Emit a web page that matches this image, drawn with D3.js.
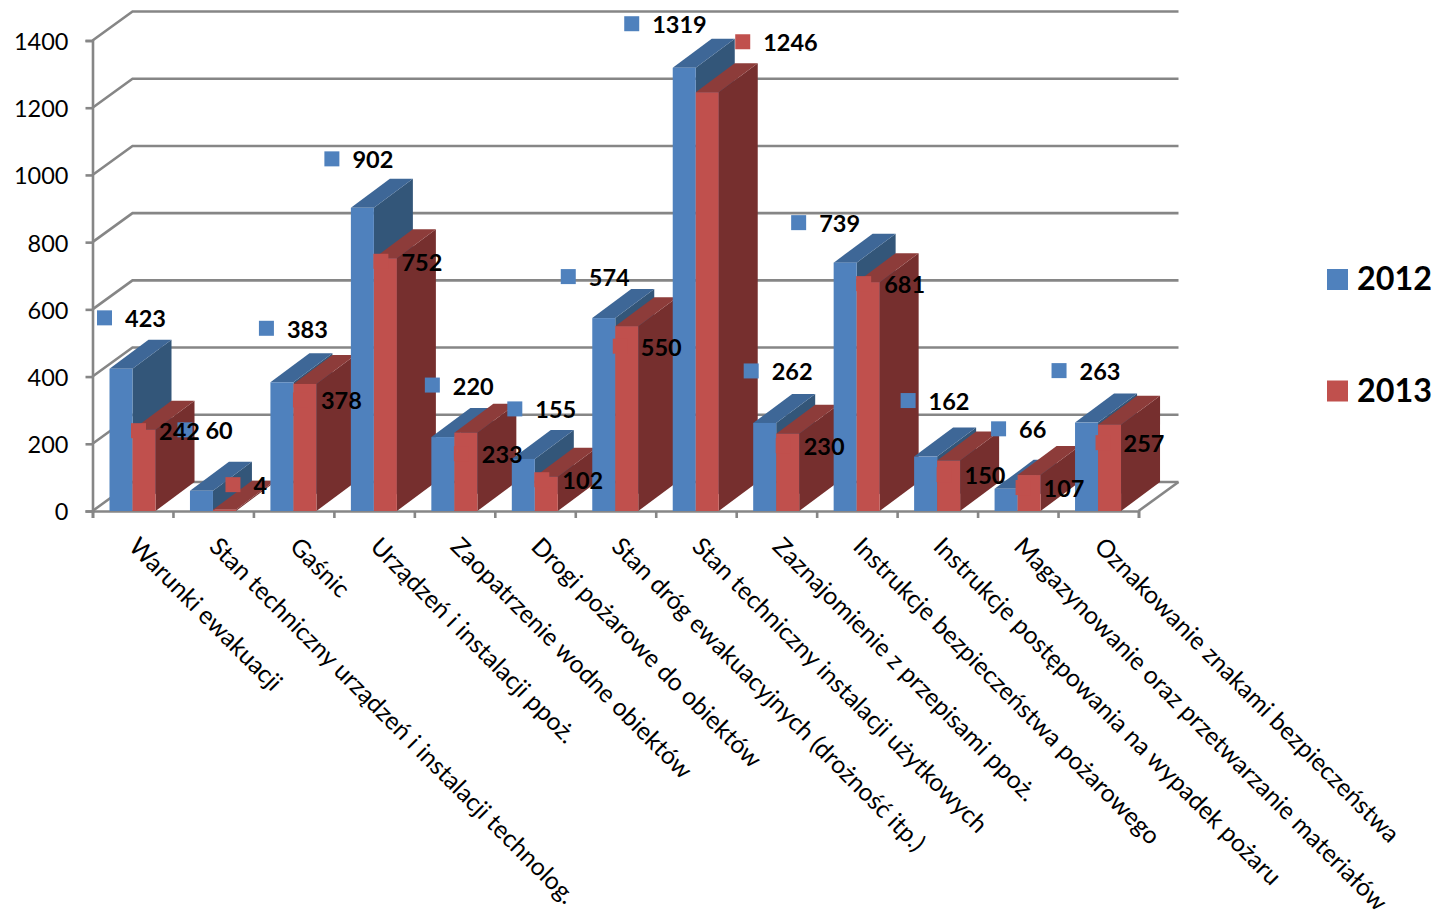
<!DOCTYPE html>
<html><head><meta charset="utf-8">
<script src="https://cdn.jsdelivr.net/npm/d3@7/dist/d3.min.js"></script>
<style>html,body{margin:0;padding:0;background:#fff}svg{display:block}text{font-family:Lato,"Open Sans",sans-serif}</style>
</head><body><svg id="c" width="1437" height="915"></svg>
<script>
const categories=["Warunki ewakuacji","Stan techniczny urządzeń i instalacji technolog.","Gaśnic","Urządzeń i instalacji ppoż.","Zaopatrzenie wodne obiektów","Drogi pożarowe do obiektów","Stan dróg ewakuacyjnych (drożność itp.)","Stan techniczny instalacji użytkowych","Zaznajomienie z przepisami ppoż.","Instrukcje bezpieczeństwa pożarowego","Instrukcje postępowania na wypadek pożaru","Magazynowanie oraz przetwarzanie materiałów","Oznakowanie znakami bezpieczeństwa"];
const values2012=[423,60,383,902,220,155,574,1319,262,739,162,66,263];
const values2013=[242,4,378,752,233,102,550,1246,230,681,150,107,257];
const yTicks=[0,200,400,600,800,1000,1200,1400];
const seriesNames=["2012","2013"];
// hand-placed label nudges of the original, relative to each bar's top-left corner
const nudge2012=[[-5,-51],[-5,-61],[-4,-54],[-19,-49],[1,-52],[3,-50],[-24,-41.5],[-41,-44],[-2,-52],[-35,-40],[-6,-56],[4,-60],[-16,-52]];
const nudge2013=[[6,1],[20,-25],[7,16],[7,3],[7,21],[7,3],[5,20],[47,-50.5],[7,12],[7,1.5],[7,14],[5.5,12.5],[5,18]];

const svg=d3.select("#c");
const x=d3.scaleLinear().domain([0,13]).range([92.5,1138.5]);
const y=d3.scaleLinear().domain([0,1400]).range([511,40.5]);
const DX=40,DY=-29,BDX=39,BDY=-29,GAP=17,BW=23;
const GRID="#868686";
const colors=[{f:"#4F81BD",t:"#3E6797",s:"#335679"},{f:"#C0504D",t:"#8D3C3A",s:"#762F2E"}];

// walls / gridlines
const line=d3.line();
yTicks.forEach(v=>{
  const Y=y(v);
  svg.append("path").attr("d",line([[x(0),Y],[x(0)+DX,Y+DY],[x(13)+DX,Y+DY]])).attr("fill","none").attr("stroke",GRID).attr("stroke-width",2.6);
});
svg.append("path").attr("d",line([[x(13),y(0)],[x(13)+DX,y(0)+DY]])).attr("fill","none").attr("stroke",GRID).attr("stroke-width",2.6);

// axes
const yAxis=svg.append("g").attr("transform",`translate(${x(0)},0)`).call(d3.axisLeft(y).tickValues(yTicks).tickSize(7).tickPadding(17).tickFormat(d3.format("d")));
const xAxis=svg.append("g").attr("transform",`translate(0,${y(0)})`).call(d3.axisBottom(x).tickValues(d3.range(0,14)).tickSize(7).tickFormat(""));
[yAxis,xAxis].forEach(a=>{a.selectAll("path,line").attr("stroke",GRID).attr("stroke-width",2.6);});
yAxis.selectAll("text").attr("font-size",23.5).attr("fill","#000").attr("dy","0.38em").style("font-family","Lato");

// bars
categories.forEach((c,i)=>{
  [values2012[i],values2013[i]].forEach((v,s)=>{
    const x0=x(i)+GAP+s*BW,x1=x0+BW,yt=y(v),yb=y(0),col=colors[s];
    svg.append("path").attr("d",line([[x1,yb],[x1+BDX,yb+BDY],[x1+BDX,yt+BDY],[x1,yt]])+"Z").attr("fill",col.s);
    svg.append("path").attr("d",line([[x0,yt],[x0+BDX,yt+BDY],[x1+BDX,yt+BDY],[x1,yt]])+"Z").attr("fill",col.t);
    svg.append("rect").attr("x",x0).attr("y",yt).attr("width",BW).attr("height",yb-yt).attr("fill",col.f);
  });
});

// data labels with legend keys
const MK=15;
[[values2012,nudge2012,0],[values2013,nudge2013,1]].forEach(([vals,nud,s])=>{
  vals.forEach((v,i)=>{
    const cx=x(i)+GAP+s*BW+nud[i][0],cy=y(v)+nud[i][1];
    svg.append("rect").attr("x",cx-MK/2).attr("y",cy-MK/2).attr("width",MK).attr("height",MK).attr("fill",colors[s].f);
  });
});
[[values2012,nudge2012,0],[values2013,nudge2013,1]].forEach(([vals,nud,s])=>{
  vals.forEach((v,i)=>{
    const cx=x(i)+GAP+s*BW+nud[i][0],cy=y(v)+nud[i][1];
    svg.append("text").attr("x",cx+20.5).attr("y",cy+9.5).attr("font-size",23.5).attr("font-weight",700).attr("fill","#000").text(v);
  });
});

// category labels
categories.forEach((c,i)=>{
  const px=x(i)+35,py=y(0)+37;
  svg.append("text").attr("transform",`translate(${px},${py}) rotate(45)`).attr("font-size",24.7).attr("fill","#000").text(c);
});

// legend
seriesNames.forEach((n,s)=>{
  const ly=279.5+s*111.5;
  svg.append("rect").attr("x",1327).attr("y",ly-10.5).attr("width",21).attr("height",21).attr("fill",colors[s].f);
  svg.append("text").attr("x",1357).attr("y",ly+10.5).attr("font-size",32.3).attr("font-weight",700).attr("fill","#000").text(n);
});
</script></body></html>
